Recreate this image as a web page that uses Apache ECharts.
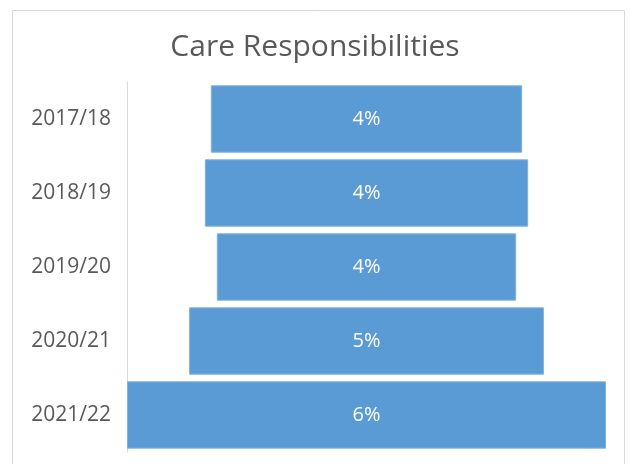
<!DOCTYPE html>
<html>
<head>
<meta charset="utf-8">
<script src="https://cdn.jsdelivr.net/npm/echarts@6/dist/echarts.min.js"></script>
<style>
  html, body { margin: 0; padding: 0; background: #fff; }
  #careChart { width: 630px; height: 464px; }
</style>
</head>
<body>
<div id="careChart"></div>
<script>
var years = ['2017/18', '2018/19', '2019/20', '2020/21', '2021/22'];
var shares = [4.16, 4.32, 4.0, 4.74, 6.4];

var maxShare = Math.max.apply(null, shares);
// transparent spacer so every bar sits centred, like the excel funnel
var spacer = shares.map(function (v) { return (maxShare - v) / 2; });

var chart = echarts.init(document.getElementById('careChart'), null, { renderer: 'canvas' });
chart.setOption({
  animation: false,
  backgroundColor: '#fff',
  title: {
    text: 'Care Responsibilities',
    left: 'center',
    top: 27,
    textStyle: {
      fontFamily: 'Open Sans',
      fontSize: 30,
      fontWeight: 'normal',
      color: '#595959'
    }
  },
  graphic: [{
    type: 'rect',
    shape: { x: 12.5, y: 10.5, width: 612, height: 470 },
    style: { fill: 'none', stroke: '#d9d9d9', lineWidth: 1 },
    silent: true
  }],
  grid: { left: 127, right: 24, top: 82, bottom: 12 },
  xAxis: {
    type: 'value',
    min: 0,
    max: maxShare,
    show: false
  },
  yAxis: {
    type: 'category',
    data: years,
    inverse: true,
    axisLine: { show: true, lineStyle: { color: '#d9d9d9', width: 1 } },
    axisTick: { show: false },
    axisLabel: {
      margin: 16,
      fontFamily: 'Open Sans',
      fontSize: 21,
      color: '#595959'
    }
  },
  series: [
    {
      type: 'bar',
      stack: 'funnel',
      silent: true,
      itemStyle: { color: 'rgba(0,0,0,0)' },
      barCategoryGap: '9%',
      data: spacer
    },
    {
      type: 'bar',
      stack: 'funnel',
      barCategoryGap: '9%',
      itemStyle: { color: '#5b9bd5', borderColor: '#7eb0df', borderWidth: 1 },
      label: {
        show: true,
        position: 'inside',
        fontFamily: 'Open Sans',
        fontSize: 20,
        color: '#fff',
        formatter: function (p) { return Math.round(p.value) + '%'; }
      },
      data: shares
    }
  ]
});
</script>
</body>
</html>
